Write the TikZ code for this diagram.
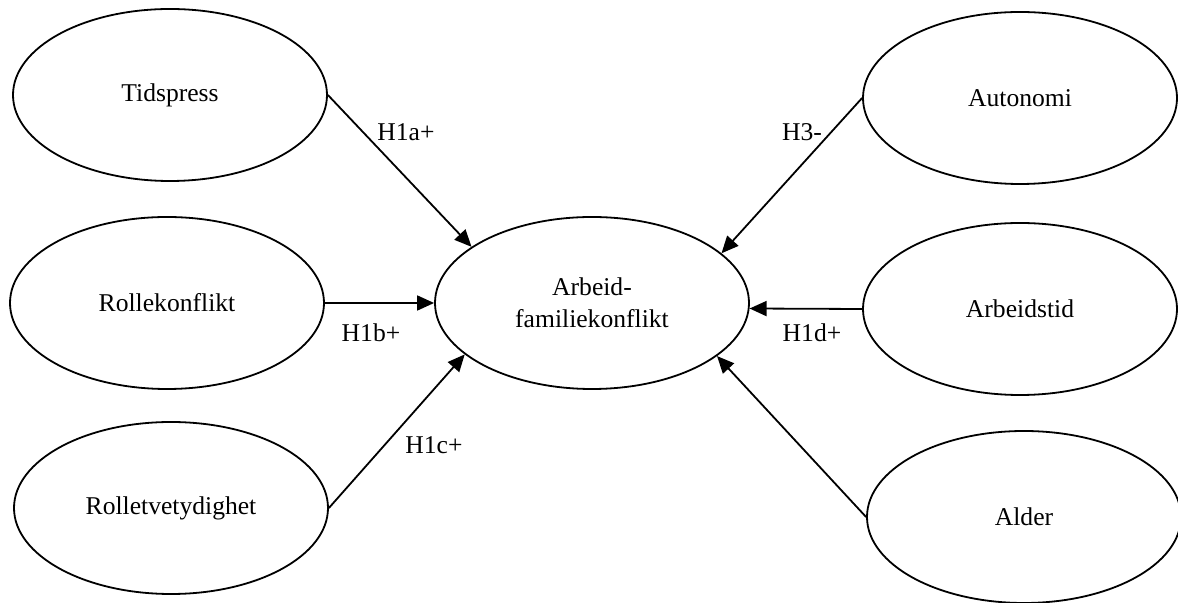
\documentclass[tikz,border=0pt]{standalone}
\usepackage{fontspec}
\setmainfont{Liberation Serif}
\usetikzlibrary{shapes.geometric,arrows.meta}
\begin{document}
\begin{tikzpicture}[x=0.5pt,y=-0.5pt,
  var/.style={ellipse,draw,line width=0.9pt,minimum width=157pt,minimum height=86pt,inner sep=0pt,font=\fontsize{12.8}{16}\selectfont,align=center},
  lbl/.style={font=\fontsize{12.8}{16}\selectfont,inner sep=0pt},
  link/.style={line width=0.9pt,-{Triangle[length=8.5pt,width=7.5pt]}}]
\useasboundingbox (0,0) rectangle (1178,603);
\node[var] (tid) at (170,95) {Tidspress};
\node[var] (rol) at (167,303) {Rollekonflikt};
\node[var] (rtv) at (171,508) {Rolletvetydighet};
\node[var] (arb) at (592,303) {Arbeid-\\familiekonflikt};
\node[var] (aut) at (1020,98) {Autonomi};
\node[var] (ast) at (1020,309) {Arbeidstid};
\node[var] (ald) at (1024,517) {Alder};
\draw[link] (tid.east) -- (arb.155);
\draw[link] (rol.east) -- (arb.west);
\draw[link] (rtv.east) -- (arb.202);
\draw[link] (aut.west) -- (arb.21);
\draw[link] (ast.west) -- (arb.-2);
\draw[link] (ald.west) -- (arb.-23);
\node[lbl] (l1) at (406,132) {H1a+};
\node[lbl] (l2) at (371,333) {H1b+};
\node[lbl] (l3) at (434,445) {H1c+};
\node[lbl] (l4) at (802,132) {H3-};
\node[lbl] (l5) at (812,333) {H1d+};
\end{tikzpicture}
\end{document}
